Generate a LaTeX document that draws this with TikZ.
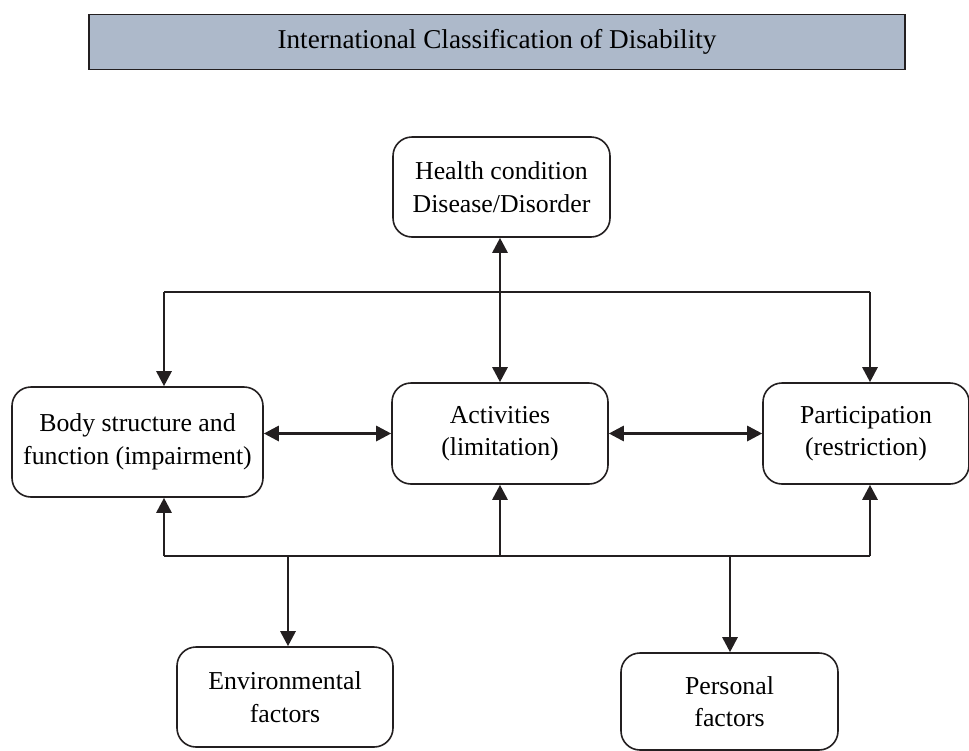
\documentclass[tikz,border=0pt]{standalone}
\usepackage{fontspec}
\setmainfont{Liberation Serif}
\usepackage{tikz}
\usetikzlibrary{calc,positioning}
\usetikzlibrary{arrows.meta}
\definecolor{titleblue}{HTML}{ADB9CA}
\definecolor{inkline}{HTML}{231F20}

\begin{document}
\begin{tikzpicture}[x=1pt,y=-1pt,
		box/.style={draw=inkline,line width=1.6pt,rounded corners=19pt,align=center,inner sep=0pt,
			font=\fontsize{25.8}{32.5}\selectfont},
		arr/.style={line width=2.8pt,draw=inkline,-{Triangle[length=15pt,width=15pt]}},
		darr/.style={line width=2.8pt,draw=inkline,{Triangle[length=15pt,width=15pt]}-{Triangle[length=15pt,width=15pt]}},
		rail/.style={line width=1.7pt,draw=inkline}]
				\useasboundingbox (0,0) rectangle (969,750);
				%\draw[color=gray,step=10pt, help lines,opacity=0.3] (0,0) grid (969,750); %help grids
				\node[draw=inkline,line width=1.3pt,fill=titleblue,minimum width=816pt,minimum height=55pt,
					font=\fontsize{27.2}{30}\selectfont] (title) at (497,42) {International Classification of Disability};
				\node[box,minimum width=217pt,minimum height=100pt] (health) at (501.5,187) {Health condition\\Disease/Disorder};
				\node[box,minimum width=251pt,minimum height=110pt] (body) at (137.5,442) {Body structure and\\function (impairment)};
				\node[box,minimum width=216pt,minimum height=101pt] (act) at (500,433.5) {Activities\\(limitation)};
				\node[box,minimum width=206pt,minimum height=101pt] (part) at (866,433.5) {Participation\\(restriction)};
				\node[box,minimum width=216pt,minimum height=100pt] (env) at (285,697) {Environmental\\factors};
				\node[box,minimum width=217pt,minimum height=97pt] (pers) at (729.5,701.5) {Personal\\factors};
				% rails
				\coordinate (topL) at (164,292);
				\coordinate (topR) at (870,292);
				\coordinate (botL) at (164,556);
				\coordinate (botR) at (870,556);
				\coordinate (botE) at (288,556);
				\coordinate (botP) at (730,556);
				\draw[rail] (topL) -- (topR);
				\draw[rail] (botL) -- (botR);
				\draw[arr] (topL) -- (topL |- body.north);
				\draw[arr] (topR) -- (topR |- part.north);
				\draw[darr] (act.north |- health.south) -- (act.north);
				\draw[darr] (body.east |- act.west) -- (act.west);
				\draw[darr] (act.east) -- (part.west);
				\draw[arr] (botL) -- (botL |- body.south);
				\draw[arr] (botL -| act.south) -- (act.south);
				\draw[arr] (botR) -- (botR |- part.south);
				\draw[arr] (botE) -- (botE |- env.north);
				\draw[arr] (botP) -- (botP |- pers.north);
\end{tikzpicture}
\end{document}
